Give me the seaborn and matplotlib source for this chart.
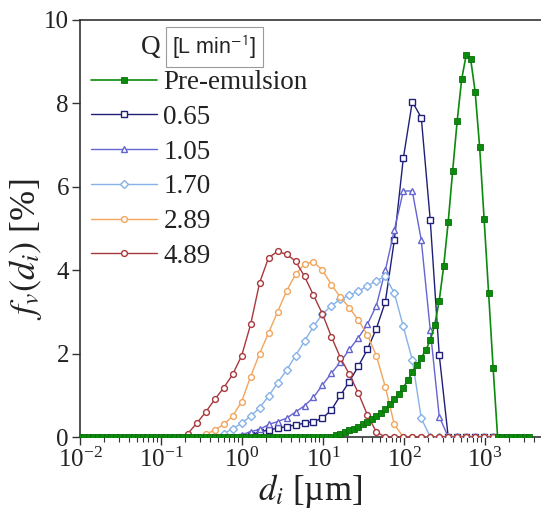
import numpy as np
import pandas as pd
import matplotlib
matplotlib.use('Agg')
import matplotlib.pyplot as plt
import seaborn as sns
from matplotlib.ticker import LogLocator, LogFormatterMathtext, NullFormatter, FixedLocator

# ---------------- data ----------------
# particle-size classes [um] (instrument grid)
sizes_um = [0.0100, 0.01136, 0.01291, 0.01466, 0.01666, 0.01893, 0.02150, 0.02443, 0.02775, 0.03153,
            0.03582, 0.04070, 0.04624, 0.05253, 0.05968, 0.06781, 0.07704, 0.08753, 0.09944, 0.1130,
            0.1284, 0.1458, 0.1657, 0.1882, 0.2139, 0.2430, 0.2761, 0.3136, 0.3563, 0.4048,
            0.4599, 0.5225, 0.5937, 0.6745, 0.7663, 0.8706, 0.9891, 1.124, 1.277, 1.450,
            1.648, 1.872, 2.127, 2.416, 2.745, 3.119, 3.543, 4.026, 4.574, 5.196,
            5.904, 6.707, 7.620, 8.658, 9.836, 11.17, 12.70, 14.42, 16.39, 18.62,
            21.15, 24.03, 27.30, 31.02, 35.24, 40.04, 45.49, 51.68, 58.71, 66.70,
            75.79, 86.10, 97.82, 111.1, 126.3, 143.5, 163.0, 185.2, 210.4, 239.0,
            271.6, 308.5, 350.5, 398.2, 452.4, 514.0, 584.0, 663.5, 753.8, 856.4,
            973.0, 1105, 1256, 1427, 1621, 1842, 2092, 2377, 2701, 3069, 3486]

pre_emulsion = [0, 0, 0, 0, 0, 0, 0, 0, 0, 0,
                0, 0, 0, 0, 0, 0, 0, 0, 0, 0,
                0, 0, 0, 0, 0, 0, 0, 0, 0, 0,
                0, 0, 0, 0, 0, 0, 0, 0, 0, 0,
                0, 0, 0, 0, 0, 0, 0, 0, 0, 0,
                0, 0, 0, 0, 0, 0, 0, 0.04, 0.08, 0.12,
                0.16, 0.20, 0.25, 0.30, 0.36, 0.42, 0.50, 0.58, 0.68, 0.78,
                0.90, 1.03, 1.18, 1.36, 1.55, 1.73, 1.90, 2.08, 2.32, 2.69,
                3.27, 4.10, 5.16, 6.39, 7.58, 8.58, 9.16, 9.06, 8.28, 6.95,
                5.22, 3.45, 1.66, 0, 0, 0, 0, 0, 0, 0, 0]

# flow-rate series are reported on every second size class
sizes_coarse = sizes_um[::2]
nan = float('nan')

q_065 = [nan, nan, nan, nan, nan, nan, nan, nan, nan, nan,
         nan, nan, nan, nan, nan, nan, nan, nan, 0.00, 0.05,
         0.12, 0.17, 0.21, 0.25, 0.29, 0.33, 0.37, 0.45, 0.65, 1.00,
         1.33, 1.70, 2.10, 2.60, 3.24, 4.72, 6.68, 8.04, 7.66, 5.20,
         1.97, 0, 0, 0, 0, 0, 0, nan, nan, nan, nan]
q_105 = [nan, nan, nan, nan, nan, nan, nan, nan, nan, nan,
         nan, nan, nan, nan, nan, nan, nan, 0.00, 0.05, 0.13,
         0.18, 0.30, 0.37, 0.45, 0.60, 0.75, 0.95, 1.25, 1.53, 1.80,
         2.10, 2.38, 2.70, 3.15, 4.00, 4.96, 5.90, 5.90, 4.72, 2.57,
         0.49, 0, 0, 0, 0, 0, 0, nan, nan, nan, nan]
q_170 = [nan, nan, nan, nan, nan, nan, nan, nan, nan, nan,
         nan, nan, nan, nan, nan, 0.00, 0.08, 0.20, 0.33, 0.50,
         0.70, 0.98, 1.30, 1.60, 1.95, 2.30, 2.65, 2.95, 3.15, 3.30,
         3.40, 3.50, 3.62, 3.75, 3.85, 3.45, 2.65, 1.85, 0.45, 0,
         0, 0, 0, 0, 0, 0, 0, nan, nan, nan, nan]
q_289 = [nan, nan, nan, nan, nan, nan, nan, nan, nan, nan,
         nan, nan, nan, 0.00, 0.06, 0.17, 0.30, 0.50, 0.85, 1.45,
         2.00, 2.50, 3.00, 3.50, 3.90, 4.15, 4.20, 4.00, 3.65, 3.35,
         3.10, 2.80, 2.45, 1.95, 1.20, 0.30, 0, 0, 0, 0,
         0, 0, 0, 0, 0, 0, 0, nan, nan, nan, nan]
q_489 = [nan, nan, nan, nan, nan, nan, nan, nan, nan, nan,
         nan, 0.00, 0.08, 0.33, 0.60, 0.90, 1.18, 1.50, 1.95, 2.70,
         3.70, 4.30, 4.45, 4.38, 4.22, 3.85, 3.40, 2.95, 2.40, 1.90,
         1.50, 1.05, 0.53, 0.12, 0, 0, 0, 0, 0, 0,
         0, 0, 0, 0, 0, 0, 0, nan, nan, nan, nan]

flow_labels = ['0.65', '1.05', '1.70', '2.89', '4.89']
flow_values = [q_065, q_105, q_170, q_289, q_489]
flow_colors = ['#1f1f7a', '#6464d2', '#86b2e8', '#f2a55c', '#a8383c']
flow_markers = ['s', '^', 'D', 'o', 'o']
green = '#0b8a0b'

# ---------------- style ----------------
sns.set_theme(style='ticks')
plt.rcParams['font.family'] = ['Liberation Serif', 'DejaVu Serif']
plt.rcParams['mathtext.fontset'] = 'stix'
plt.rcParams['axes.edgecolor'] = '#333333'

fig = plt.figure(figsize=(5.41, 5.20), dpi=100)
ax = fig.add_axes([80 / 541, 83 / 520, 461 / 541, 417 / 520])

for lab, vals, col, mk in zip(flow_labels, flow_values, flow_colors, flow_markers):
    df = pd.DataFrame({'d': sizes_coarse, 'f': vals}).dropna()
    ms = 3.6 if mk == 'D' else 4.2
    sns.lineplot(data=df, x='d', y='f', ax=ax, color=col, lw=1.0,
                 marker=mk, markersize=ms, markerfacecolor='white',
                 markeredgecolor=col, markeredgewidth=1.0,
                 estimator=None, sort=False, label=lab, zorder=3)

dfg = pd.DataFrame({'d': sizes_um, 'f': pre_emulsion})
sns.lineplot(data=dfg, x='d', y='f', ax=ax, color=green, lw=1.2,
             marker='s', markersize=4.6, markerfacecolor=green,
             markeredgecolor='#0a6e0a', markeredgewidth=0.6,
             estimator=None, sort=False, label='Pre-emulsion', zorder=5)

ax.set_xscale('log')
ax.set_xlim(1e-2, 10 ** 3.69)
ax.set_ylim(0, 10)
ax.xaxis.set_major_locator(LogLocator(base=10, numticks=10))
ax.xaxis.set_minor_locator(LogLocator(base=10, subs=np.arange(2, 10), numticks=20))
ax.xaxis.set_major_formatter(LogFormatterMathtext())
ax.xaxis.set_minor_formatter(NullFormatter())
ax.yaxis.set_major_locator(FixedLocator([0, 2, 4, 6, 8, 10]))

ax.tick_params(axis='both', which='major', labelsize=18, length=6, width=1.0,
               direction='out', colors='#333333', labelcolor='#222222', pad=2)
ax.tick_params(axis='x', which='minor', length=3.5, width=0.8, direction='out', colors='#333333')

ax.spines['right'].set_visible(False)
for s in ['left', 'bottom', 'top']:
    ax.spines[s].set_linewidth(1.2)

ax.set_xlabel(r'$d_i$ [µm]', fontsize=25, labelpad=0, color='#222222')
ax.set_ylabel(r'$f_v(d_i)$ [%]', fontsize=26, color='#222222')
ax.yaxis.set_label_coords(-0.078, 0.45)

handles, labels = ax.get_legend_handles_labels()
order = [labels.index('Pre-emulsion')] + [labels.index(l) for l in flow_labels]
leg = ax.legend([handles[i] for i in order], [labels[i] for i in order],
                loc='upper left', bbox_to_anchor=(0.024, 0.88), frameon=False,
                fontsize=19.5, handlelength=2.45, handletextpad=0.22,
                labelspacing=0.36, borderpad=0, borderaxespad=0, numpoints=1)
for t in leg.get_texts():
    t.set_color('#222222')

fig.text(151 / 541, 1 - 47 / 520, 'Q', ha='center', va='center', fontsize=19.5, color='#222222')
fig.text(214.5 / 541, 1 - 47 / 520, r'[L min$^{\mathsf{-1}}$]', ha='center', va='center',
         fontsize=15.5, family=['Liberation Sans', 'DejaVu Sans'], color='#222222',
         bbox=dict(boxstyle='square,pad=0.3', fc='white', ec='#9a9a9a', lw=0.8))

fig.savefig('out.png', dpi=100, facecolor='white')
